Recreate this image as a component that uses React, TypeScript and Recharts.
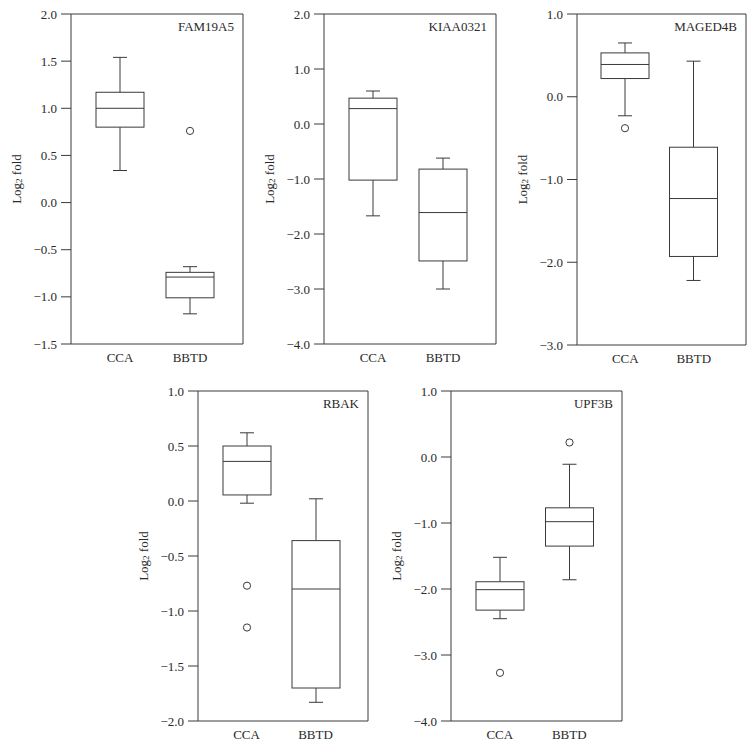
import React from "react";
import { ComposedChart, Bar, Line, XAxis, YAxis } from "recharts";

// Categories shared by every panel
const categories = ["CCA", "BBTD"];

// Five-number summaries: [lower whisker, Q1, median, Q3, upper whisker]
const fam19a5CCA = [0.34, 0.8, 1.0, 1.17, 1.54];
const fam19a5BBTD = [-1.18, -1.01, -0.79, -0.74, -0.68];
const fam19a5Outliers = [[], [0.76]];
const fam19a5Ticks = [-1.5, -1.0, -0.5, 0, 0.5, 1.0, 1.5, 2.0];

const kiaa0321CCA = [-1.67, -1.02, 0.28, 0.47, 0.6];
const kiaa0321BBTD = [-3.0, -2.49, -1.61, -0.82, -0.62];
const kiaa0321Outliers = [[], []];
const kiaa0321Ticks = [-4, -3, -2, -1, 0, 1, 2];

const maged4bCCA = [-0.23, 0.22, 0.39, 0.53, 0.65];
const maged4bBBTD = [-2.22, -1.93, -1.23, -0.61, 0.43];
const maged4bOutliers = [[-0.38], []];
const maged4bTicks = [-3, -2, -1, 0, 1];

const rbakCCA = [-0.02, 0.055, 0.36, 0.5, 0.62];
const rbakBBTD = [-1.83, -1.7, -0.8, -0.36, 0.02];
const rbakOutliers = [[-0.77, -1.15], []];
const rbakTicks = [-2, -1.5, -1, -0.5, 0, 0.5, 1];

const upf3bCCA = [-2.45, -2.32, -2.01, -1.89, -1.52];
const upf3bBBTD = [-1.86, -1.35, -0.98, -0.77, -0.11];
const upf3bOutliers = [[-3.27], [0.22]];
const upf3bTicks = [-4, -3, -2, -1, 0, 1];

const FONT = "'Liberation Serif', serif";
const INK = "#2a2a2a";
const LINE = "#3a3a3a";

type Row = {
  cat: string;
  lo: number;
  q1: number;
  med: number;
  q3: number;
  hi: number;
  outliers: number[];
  frame: number;
};

const buildRows = (groups: number[][], outliers: number[][]): Row[] =>
  categories.map((cat, i) => ({
    cat,
    lo: groups[i][0],
    q1: groups[i][1],
    med: groups[i][2],
    q3: groups[i][3],
    hi: groups[i][4],
    outliers: outliers[i],
    frame: 0.5,
  }));

const BoxShape = (props: any) => {
  const { x, y, width, height, payload } = props;
  if (payload == null || x == null || y == null) return null;
  const top = Math.min(y, y + height);
  const bottom = Math.max(y, y + height);
  const span = payload.hi - payload.lo;
  const py = (v: number) => bottom - ((v - payload.lo) / span) * (bottom - top);
  const cx = x + width / 2;
  const cap = 7;
  return (
    <g>
      <line x1={cx} x2={cx} y1={py(payload.hi)} y2={py(payload.q3)} stroke={LINE} strokeWidth={1} />
      <line x1={cx} x2={cx} y1={py(payload.q1)} y2={py(payload.lo)} stroke={LINE} strokeWidth={1} />
      <line x1={cx - cap} x2={cx + cap} y1={py(payload.hi)} y2={py(payload.hi)} stroke={LINE} strokeWidth={1} />
      <line x1={cx - cap} x2={cx + cap} y1={py(payload.lo)} y2={py(payload.lo)} stroke={LINE} strokeWidth={1} />
      <rect
        x={x}
        y={py(payload.q3)}
        width={width}
        height={py(payload.q1) - py(payload.q3)}
        fill="#fff"
        stroke={LINE}
        strokeWidth={1}
      />
      <line x1={x} x2={x + width} y1={py(payload.med)} y2={py(payload.med)} stroke={LINE} strokeWidth={1} />
      {payload.outliers.map((o: number, k: number) => (
        <circle key={k} cx={cx} cy={py(o)} r={3.6} fill="#fff" stroke={LINE} strokeWidth={1} />
      ))}
    </g>
  );
};

const fmt = (v: number) => {
  const s = Math.abs(v).toFixed(1);
  return v < 0 ? "\u2212" + s : s;
};

type PanelProps = {
  gene: string;
  groups: number[][];
  outliers: number[][];
  ticks: number[];
  left: number;
  top: number;
  w: number;
  h: number;
};

const Panel = ({ gene, groups, outliers, ticks, left, top, w, h }: PanelProps) => {
  const rows = buildRows(groups, outliers);
  const axisW = 70;
  const mTop = 10;
  const mRight = 5;
  const xH = 30;
  return (
    <div style={{ position: "absolute", left: left - axisW, top: top - mTop }}>
      <ComposedChart
        width={w + axisW + mRight}
        height={h + mTop + xH}
        data={rows}
        margin={{ top: mTop - 1, right: mRight - 1, bottom: 0, left: 0 }}
      >
        <XAxis
          dataKey="cat"
          height={xH}
          padding={{ left: 14, right: 18 }}
          tickLine={false}
          axisLine={{ stroke: LINE, strokeWidth: 1 }}
          tick={{ fill: INK, fontSize: 13, fontFamily: FONT }}
          tickMargin={3}
          interval={0}
        />
        <XAxis
          xAxisId="top"
          dataKey="cat"
          orientation="top"
          height={1}
          tick={false}
          tickLine={false}
          axisLine={{ stroke: LINE, strokeWidth: 1 }}
        />
        <YAxis
          type="number"
          domain={[ticks[0], ticks[ticks.length - 1]]}
          ticks={ticks}
          allowDataOverflow
          width={axisW}
          tickSize={10}
          tickMargin={4}
          tickFormatter={fmt}
          axisLine={{ stroke: LINE, strokeWidth: 1 }}
          tickLine={{ stroke: LINE, strokeWidth: 1 }}
          tick={{ fill: INK, fontSize: 13, fontFamily: FONT }}
          label={{
            content: (p: any) => {
              const vb = p.viewBox || {};
              const lx = vb.x + vb.width - 55;
              const ly = vb.y + vb.height / 2;
              return (
                <text
                  x={lx}
                  y={ly}
                  transform={`rotate(-90 ${lx} ${ly})`}
                  textAnchor="middle"
                  dominantBaseline="central"
                  fill={INK}
                  fontSize={13}
                  fontFamily={FONT}
                >
                  <tspan>Log</tspan>
                  <tspan dy={3} fontSize={9}>2</tspan>
                  <tspan dy={-3}> fold</tspan>
                </text>
              );
            },
          }}
        />
        <YAxis
          yAxisId="right"
          orientation="right"
          type="number"
          domain={[0, 1]}
          width={1}
          tick={false}
          tickLine={false}
          axisLine={{ stroke: LINE, strokeWidth: 1 }}
          label={{
            content: (p: any) => {
              const vb = p.viewBox || {};
              return (
                <text
                  x={vb.x - 9}
                  y={vb.y + 17}
                  textAnchor="end"
                  fill={INK}
                  fontSize={13}
                  fontFamily={FONT}
                >
                  {gene}
                </text>
              );
            },
          }}
        />
        <Line
          xAxisId="top"
          yAxisId="right"
          dataKey="frame"
          stroke="none"
          dot={false}
          activeDot={false}
          legendType="none"
          isAnimationActive={false}
        />
        <Bar
          dataKey={(d: Row) => [d.lo, d.hi]}
          barSize={48}
          shape={BoxShape}
          isAnimationActive={false}
        />
      </ComposedChart>
    </div>
  );
};

export default function App() {
  return (
    <div
      style={{
        position: "absolute",
        left: 0,
        top: 0,
        width: 756,
        height: 746,
        background: "#fff",
        overflow: "hidden",
      }}
    >
      <Panel gene="FAM19A5" groups={[fam19a5CCA, fam19a5BBTD]} outliers={fam19a5Outliers} ticks={fam19a5Ticks} left={71} top={14} w={172} h={330} />
      <Panel gene="KIAA0321" groups={[kiaa0321CCA, kiaa0321BBTD]} outliers={kiaa0321Outliers} ticks={kiaa0321Ticks} left={324} top={14} w={172} h={330} />
      <Panel gene="MAGED4B" groups={[maged4bCCA, maged4bBBTD]} outliers={maged4bOutliers} ticks={maged4bTicks} left={577} top={14} w={169} h={331} />
      <Panel gene="RBAK" groups={[rbakCCA, rbakBBTD]} outliers={rbakOutliers} ticks={rbakTicks} left={198} top={391} w={170} h={330} />
      <Panel gene="UPF3B" groups={[upf3bCCA, upf3bBBTD]} outliers={upf3bOutliers} ticks={upf3bTicks} left={451} top={391} w={171} h={330} />
    </div>
  );
}
